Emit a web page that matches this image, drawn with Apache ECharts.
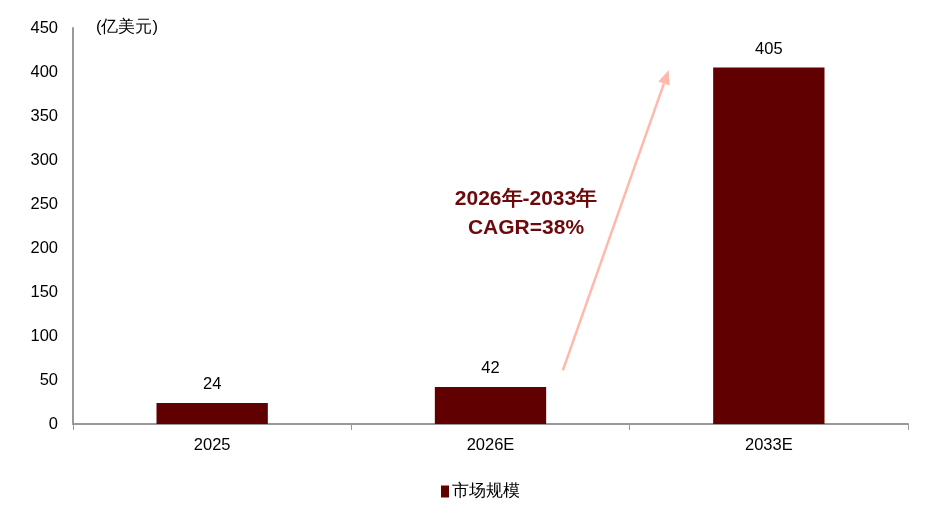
<!DOCTYPE html>
<html><head><meta charset="utf-8">
<script src="https://cdn.jsdelivr.net/npm/echarts@6/dist/echarts.min.js"></script>
<style>html,body{margin:0;padding:0;background:#fff}#c{width:938px;height:525px}</style>
</head><body><div id="c"></div>
<script>
const categories = ['2025', '2026E', '2033E'];
const marketSize = [24, 42, 405];
const seriesName = '市场规模';
const unitLabel = '(亿美元)';
const cagrText = '2026年-2033年\nCAGR=38%';
// arrow annotation endpoints in data space: [category position (fractional index), value]
const arrowStart = [1.26, 61];
const arrowEnd = [1.64, 402];

const chart = echarts.init(document.getElementById('c'));
const font = 'Liberation Sans, Arial, sans-serif';
chart.setOption({
  animation: false,
  grid: {left: 73, right: 30, top: 28, bottom: 101, containLabel: false},
  legend: {
    data: [seriesName], bottom: 20, left: 436,
    itemWidth: 8, itemHeight: 12, itemGap: 4,
    textStyle: {fontFamily: font, fontSize: 16.5, color: '#000', padding: [0, 0, 0, -2]},
    icon: 'rect'
  },
  xAxis: {
    type: 'category', data: categories,
    axisLine: {lineStyle: {color: '#999', width: 2}},
    axisTick: {show: true, length: 6, lineStyle: {color: '#999'}},
    axisLabel: {fontFamily: font, fontSize: 16.5, color: '#000', margin: 13}
  },
  yAxis: {
    type: 'value', min: 0, max: 450, interval: 50,
    axisLine: {show: true, lineStyle: {color: '#999', width: 2}},
    axisTick: {show: false},
    splitLine: {show: false},
    axisLabel: {fontFamily: font, fontSize: 16.5, color: '#000', margin: 15}
  },
  series: [{
    name: seriesName, type: 'bar', data: marketSize, barWidth: '40%',
    itemStyle: {color: '#600000'},
    label: {show: true, position: 'top', distance: 10, fontFamily: font, fontSize: 16.5, color: '#000'}
  }]
});

function toPixel(pt) {
  const i0 = Math.floor(pt[0]), f = pt[0] - i0;
  const a = chart.convertToPixel({gridIndex: 0}, [i0, pt[1]]);
  const b = chart.convertToPixel({gridIndex: 0}, [i0 + 1, pt[1]]);
  return [a[0] + (b[0] - a[0]) * f, a[1]];
}
const p0 = toPixel(arrowStart);
const p1 = toPixel(arrowEnd);
const ang = Math.atan2(p1[1] - p0[1], p1[0] - p0[0]);
const ah = 14, aw = 6;
const bx = p1[0] - ah * Math.cos(ang), by = p1[1] - ah * Math.sin(ang);
const nx = -Math.sin(ang), ny = Math.cos(ang);
chart.setOption({
  graphic: [{
    type: 'text', left: 96, top: 19,
    style: {text: unitLabel, fontFamily: font, fontSize: 16.5, fill: '#000'}
  }, {
    type: 'line',
    shape: {x1: p0[0], y1: p0[1], x2: bx, y2: by},
    style: {stroke: '#FFB8AA', lineWidth: 2.5}
  }, {
    type: 'polygon',
    shape: {points: [[p1[0], p1[1]], [bx + nx * aw, by + ny * aw], [bx - nx * aw, by - ny * aw]]},
    style: {fill: '#FFB8AA'}
  }, {
    type: 'text', x: 526, y: 214,
    style: {text: cagrText, fontFamily: font, fontSize: 21, fontWeight: 'bold', fill: '#6B0A0A',
      align: 'center', verticalAlign: 'middle', lineHeight: 29}
  }]
});
</script></body></html>
